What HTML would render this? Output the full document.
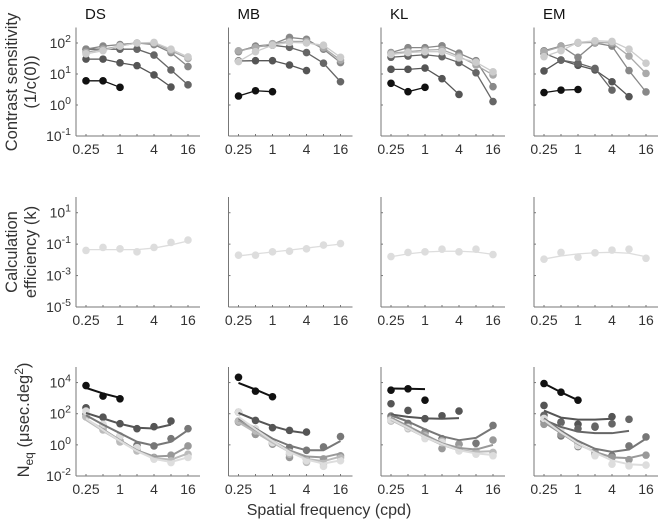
<!DOCTYPE html>
<html><head><meta charset="utf-8">
<style>
html,body{margin:0;padding:0;background:#fff;}
svg{display:block;font-family:"Liberation Sans",sans-serif;}
</style></head>
<body>
<svg id="fig" width="658" height="521" viewBox="0 0 658 521" xmlns="http://www.w3.org/2000/svg"></svg>
<script>
// ---------- data (log10 values) ----------
const freqs = [0.25,0.5,1,2,4,8,16];
const subjects = ["DS","MB","KL","EM"];
const xTickLabels = ["0.25","1","4","16"];
const xTickValues = [0.25,1,4,16];
const topTicks = [2,1,0,-1];
const midTicks = [1,-1,-3,-5];
const botTicks = [4,2,0,-2];
const topColors = ["#111","#555","#666","#888","#aaa","#ccc"];

// contrast sensitivity, log10
const csDS = [[0.78,0.78,0.57],[1.48,1.48,1.36,1.27,0.97,0.58],[1.8,1.8,1.8,1.8,1.61,1.13,0.65],[1.8,1.9,1.95,2.0,1.95,1.69,1.24],[1.7,1.8,1.9,2.0,2.0,1.75,1.5],[1.65,1.75,1.9,2.0,2.02,1.8,1.55]];
const csMB = [[0.29,0.46,0.43],[1.42,1.43,1.43,1.29,1.11],[1.74,1.88,1.93,1.86,1.69,1.35,0.75],[1.72,1.9,1.96,2.18,2.12,1.8,1.37],[1.75,1.85,1.98,2.05,2.05,1.85,1.45],[1.4,1.72,1.93,2.02,2.0,1.93,1.54]];
const csKL = [[0.7,0.43,0.57],[1.15,1.15,1.19,0.85,0.34],[1.54,1.58,1.62,1.56,1.37,1.04,0.11],[1.69,1.85,1.85,1.91,1.67,1.43,0.59],[1.67,1.72,1.77,1.79,1.57,1.29,0.97],[1.63,1.69,1.72,1.72,1.52,1.38,1.07]];
const csEM = [[0.4,0.48,0.5],[1.1,1.45,1.28,1.13,0.75,0.27],[1.67,1.45,1.35,1.18,0.48],[1.75,1.9,1.54,2.0,1.9,1.11,0.42],[1.72,1.88,2.0,2.02,2.0,1.58,1.02],[1.56,1.75,2.02,2.07,2.05,1.8,1.35]];

// calculation efficiency, log10
const effDS = [-1.4,-1.21,-1.3,-1.49,-1.21,-0.89,-0.74];
const effFitDS = [-1.35,-1.35,-1.35,-1.35,-1.25,-1.05,-0.8];
const effMB = [-1.7,-1.7,-1.49,-1.45,-1.3,-1.06,-0.96];
const effFitMB = [-1.75,-1.62,-1.5,-1.38,-1.25,-1.12,-1.0];
const effKL = [-1.79,-1.53,-1.49,-1.32,-1.49,-1.32,-1.66];
const effFitKL = [-1.8,-1.62,-1.5,-1.45,-1.45,-1.5,-1.65];
const effEM = [-1.96,-1.53,-1.83,-1.55,-1.38,-1.32,-1.9];
const effFitEM = [-1.95,-1.75,-1.62,-1.55,-1.52,-1.58,-1.8];

// Neq, log10 (points and fits)
const neqDS = [[3.81,3.13,2.96],[2.38,1.78,1.36,1.04,1.17,1.53],[1.96,1.25,0.57,-0.03,-0.07,0.4,1.04],[1.8,1.04,0.25,-0.32,-0.81,-0.66,-0.07],[1.8,0.96,0.19,-0.39,-0.86,-1.03,-0.6],[2.17,1.32,0.57,-0.18,-0.92,-1.14,-0.81]];
const neqFitDS = [[3.66,3.3,3.02],[2.05,1.7,1.35,1.1,1.05,1.3],[1.9,1.3,0.75,0.2,-0.05,0.2,0.95],[1.65,1.0,0.3,-0.35,-0.75,-0.7,-0.1],[1.6,0.9,0.25,-0.4,-0.85,-0.95,-0.55],[1.7,0.95,0.25,-0.4,-0.9,-1.1,-0.8]];
const neqMB = [[4.34,3.45,3.09],[2.1,1.57,1.1,0.93,0.82],[1.53,0.68,0.1,-0.17,-0.35,-0.13,0.53],[1.46,0.68,0.04,-0.81,-0.92,-0.9,-0.7],[1.53,0.89,0.15,-0.6,-1.12,-1.2,-0.83],[2.1,1.04,0.15,-0.49,-1.02,-1.38,-1.02]];
const neqFitMB = [[3.98,3.55,3.09],[2.05,1.6,1.2,0.9,0.75],[1.7,1.05,0.4,-0.05,-0.35,-0.35,0.25],[1.55,0.9,0.25,-0.35,-0.75,-0.8,-0.55],[1.45,0.8,0.15,-0.45,-0.9,-1.05,-0.75],[1.8,1.0,0.25,-0.45,-0.95,-1.2,-1.0]];
const neqKL = [[3.51,3.6,2.87],[2.64,2.21,1.68,1.87,2.17],[1.85,1.38,0.82,0.4,0.04,0.1,1.25],[1.68,1.17,0.74,-0.24,0.04,-0.49,0.31],[1.53,1.04,0.57,0.25,-0.28,-0.39,-0.49],[1.6,1.1,0.4,0.15,-0.39,-0.6,-0.7]];
const neqFitKL = [[3.62,3.6,3.58],[1.95,1.8,1.7,1.68,1.72],[1.9,1.5,1.0,0.55,0.3,0.45,1.1],[1.75,1.2,0.65,0.1,-0.2,-0.3,0.0],[1.6,1.05,0.5,0.0,-0.35,-0.45,-0.4],[1.65,1.1,0.5,0.05,-0.35,-0.55,-0.65]];
const neqEM = [[3.94,3.38,2.87],[2.53,1.46,1.32,1.14,1.81],[1.9,1.42,1.04,1.2,1.35,1.64],[1.53,0.57,-0.11,-0.6,-0.7,-0.07,0.51],[1.32,0.68,0.05,-0.45,-0.81,-0.95,-0.66],[1.7,1.0,-0.05,-0.7,-1.24,-1.35,-1.3]];
const neqFitEM = [[3.94,3.38,2.87],[2.2,1.75,1.62,1.62,1.68],[1.6,1.15,0.85,0.75,0.75,0.9],[1.7,0.9,0.25,-0.25,-0.45,-0.3,0.4],[1.45,0.75,0.05,-0.45,-0.8,-0.85,-0.6],[1.6,0.8,0.1,-0.5,-1.0,-1.25,-1.3]];
const botColorsStd = ["#111","#555","#777","#999","#bbb","#ddd"];
const botColorsEM = ["#111","#555","#666","#777","#999","#ddd"];

const csAll = [csDS,csMB,csKL,csEM];
const effAll = [effDS,effMB,effKL,effEM];
const effFitAll = [effFitDS,effFitMB,effFitKL,effFitEM];
const neqAll = [neqDS,neqMB,neqKL,neqEM];
const neqFitAll = [neqFitDS,neqFitMB,neqFitKL,neqFitEM];

// ---------- layout ----------
const NS="http://www.w3.org/2000/svg";
const svg=document.getElementById("fig");
const colLeft=[76,228.5,381,534];
const AXW=124;
const rows=[{top:27.5,bottom:136,lo:-1,hi:2.5},{top:197,bottom:307,lo:-5,hi:2},{top:367,bottom:476,lo:-2,hi:5}];
function mk(tag,attrs,parent){const e=document.createElementNS(NS,tag);for(const k in attrs)e.setAttribute(k,attrs[k]);(parent||svg).appendChild(e);return e;}
function xs(left,f){return left+10+17*(Math.log2(f)+2);}
function ys(row,v){const r=rows[row];return r.bottom-(v-r.lo)/(r.hi-r.lo)*(r.bottom-r.top);}

function drawAxes(row,c,ticks,panelName){
  const left=colLeft[c], r=rows[row];
  const g=mk("g",{});
  
  
  mk("line",{x1:left,y1:r.top,x2:left,y2:r.bottom,stroke:"#777","stroke-width":1},g);
  mk("line",{x1:left,y1:r.bottom,x2:left+AXW,y2:r.bottom,stroke:"#777","stroke-width":1},g);
  freqs.forEach(f=>{const x=xs(left,f);mk("line",{x1:x,y1:r.bottom,x2:x,y2:r.bottom-2,stroke:"#777"},g);});
  ticks.forEach(t=>{const y=ys(row,t);mk("line",{x1:left,y1:y,x2:left+2,y2:y,stroke:"#777"},g);
    if(c===0){const tx=mk("text",{x:left-5,y:y+5,"text-anchor":"end","font-size":"14",fill:"#333"},g);
      
      
      const a=mk("tspan",{},tx);a.textContent="10";
      const b=mk("tspan",{dy:"-6","font-size":"10.5"},tx);b.textContent=String(t);}
  });
  xTickValues.forEach((f,i)=>{const t=mk("text",{x:xs(left,f),y:r.bottom+18,"text-anchor":"middle","font-size":"14",fill:"#333"},g);
    
    
    t.textContent=xTickLabels[i];});
}

subjects.forEach((s,c)=>{
  const left=colLeft[c];
  const title=mk("text",{x:left+9,y:19,"font-size":"15",fill:"#111"});
  
  
  title.textContent=s;
  drawAxes(0,c,topTicks,'cs-'+s.toLowerCase());
  drawAxes(1,c,midTicks,'eff-'+s.toLowerCase());
  drawAxes(2,c,botTicks,'neq-'+s.toLowerCase());

  csAll[c].forEach((ser,k)=>{
    const col=topColors[k];
    const pts=ser.map((v,i)=>xs(left,freqs[i])+","+ys(0,v)).join(" ");
    const pl=mk("polyline",{points:pts,fill:"none",stroke:col,"stroke-width":1.3});
    
    
    ser.forEach((v,i)=>{const d=mk("circle",{cx:xs(left,freqs[i]),cy:ys(0,v),r:3.8,fill:col});
      
      });
  });

  const fit=effFitAll[c];
  const fl=mk("polyline",{points:fit.map((v,i)=>xs(left,freqs[i])+","+ys(1,v)).join(" "),fill:"none",stroke:"#ddd","stroke-width":1.3});
  
  
  effAll[c].forEach((v,i)=>{const d=mk("circle",{cx:xs(left,freqs[i]),cy:ys(1,v),r:3.8,fill:"#ddd"});
    
    });

  const cols=(s==="EM")?botColorsEM:botColorsStd;
  neqAll[c].forEach((ser,k)=>{
    const col=cols[k];
    ser.forEach((v,i)=>{const d=mk("circle",{cx:xs(left,freqs[i]),cy:ys(2,v),r:3.8,fill:col});
      
      });
  });
  neqFitAll[c].forEach((ser,k)=>{
    const col=cols[k];
    const pl=mk("polyline",{points:ser.map((v,i)=>xs(left,freqs[i])+","+ys(2,v)).join(" "),fill:"none",stroke:col,"stroke-width":2,"stroke-linejoin":"round"});
    
    
  });
});

function ylab(lines,cy,name){
  const g=mk("g",{});
  
  
  lines.forEach(([txt,x])=>{const t=mk("text",{x:0,y:0,"text-anchor":"middle","font-size":"16.5",fill:"#333",transform:"translate("+x+","+cy+") rotate(-90)"},g);t.textContent=txt;});
}
ylab([["Contrast sensitivity",17],["(1/c(0))",36]],82,"y-axis-title-cs");
ylab([["Calculation",17],["efficiency (k)",36]],252,"y-axis-title-eff");
(function(){
  const t=mk("text",{x:0,y:0,"text-anchor":"middle","font-size":"16.5",fill:"#333",transform:"translate(29,420) rotate(-90)"});
  
  
  const a=mk("tspan",{},t);a.textContent="N";
  const b=mk("tspan",{dy:"4","font-size":"12"},t);b.textContent="eq";
  const c=mk("tspan",{dy:"-4"},t);c.textContent=" (\u03bcsec.deg";
  const d=mk("tspan",{dy:"-6","font-size":"12"},t);d.textContent="2";
  const e=mk("tspan",{dy:"6"},t);e.textContent=")";
})();
const xl=mk("text",{x:329,y:515,"text-anchor":"middle","font-size":"16",fill:"#333"});


xl.textContent="Spatial frequency (cpd)";
</script>
</body></html>
